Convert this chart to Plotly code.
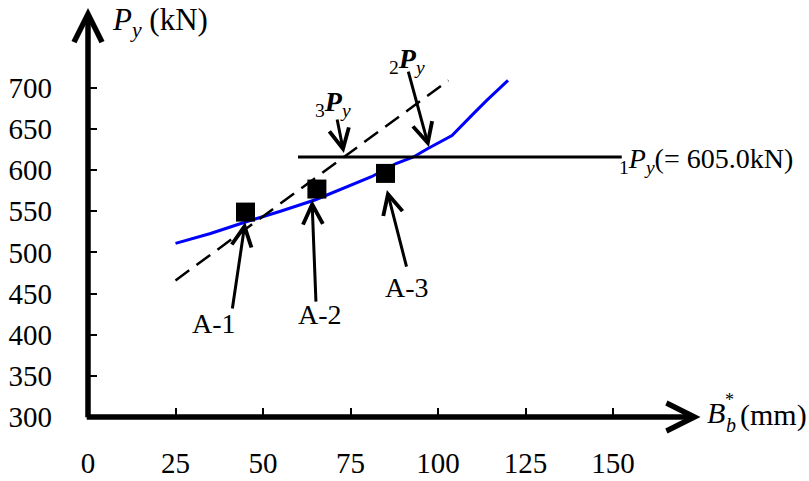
import plotly.graph_objects as go

# ---- data ----
curve_x = [25, 35, 45, 55, 65, 75, 81, 88, 93, 97, 104, 110, 114, 120]
curve_y = [511, 523, 537, 550, 564, 581, 592, 608, 616, 626, 642, 668, 685, 709]

dash_x = [25, 103]
dash_y = [466, 709]

py1_x = [60, 152.5]
py1_y = [615.8, 615.8]

spec_names = ["A-1", "A-2", "A-3"]
spec_x = [45, 65.4, 85]
spec_y = [549, 577, 596]

x_ticks = [0, 25, 50, 75, 100, 125, 150]
y_ticks = [300, 350, 400, 450, 500, 550, 600, 650, 700]

FONT = "Liberation Serif"
FS = 28

fig = go.Figure()
fig.add_trace(go.Scatter(x=curve_x, y=curve_y, mode="lines",
                         line=dict(color="#0000FF", width=3), showlegend=False))
fig.add_trace(go.Scatter(x=dash_x, y=dash_y, mode="lines",
                         line=dict(color="black", width=2.5, dash="17px,9px"), showlegend=False))
fig.add_trace(go.Scatter(x=py1_x, y=py1_y, mode="lines",
                         line=dict(color="black", width=3), showlegend=False))
fig.add_trace(go.Scatter(x=spec_x, y=spec_y, mode="markers",
                         marker=dict(symbol="square", size=19, color="black"), showlegend=False))

ann = []
# axis arrows
ann.append(dict(x=175, y=300, ax=-0.8, ay=300, axref="x", ayref="y", xref="x", yref="y",
                text="", showarrow=True, arrowhead=5, arrowwidth=5.5, arrowsize=1.0, arrowcolor="black"))
ann.append(dict(x=0, y=797, ax=0, ay=298, axref="x", ayref="y", xref="x", yref="y",
                text="", showarrow=True, arrowhead=5, arrowwidth=5.5, arrowsize=1.0, arrowcolor="black"))

small = dict(xref="x", yref="y", text="", showarrow=True, arrowhead=5, arrowwidth=3,
             arrowsize=1.3, arrowcolor="black")
# specimen arrows
ann.append(dict(small, x=44.9, y=536.9, ax=-13, ay=88))
ann.append(dict(small, x=64, y=563.6, ax=4, ay=103))
ann.append(dict(small, x=85.4, y=575.7, ax=20, ay=78))
# 3Py, 2Py arrows
ann.append(dict(small, x=73.1, y=620.7, ax=-7, ay=-35))
ann.append(dict(small, x=97.4, y=628, ax=-21, ay=-77))

txt = dict(xref="x", yref="y", showarrow=False, font=dict(family=FONT, size=FS, color="black"))
ann.append(dict(txt, x=36, y=414.2, text=spec_names[0], xanchor="center", yanchor="middle"))
ann.append(dict(txt, x=66.3, y=425, text=spec_names[1], xanchor="center", yanchor="middle"))
ann.append(dict(txt, x=91.1, y=457.9, text=spec_names[2], xanchor="center", yanchor="middle"))
ann.append(dict(txt, x=64.3, y=681.4, text="<sub>3</sub><b><i>P</i></b><sub><i>y</i></sub>",
                xanchor="left", yanchor="middle"))
ann.append(dict(txt, x=85.4, y=733.6, text="<sub>2</sub><b><i>P</i></b><sub><i>y</i></sub>",
                xanchor="left", yanchor="middle"))
ann.append(dict(txt, x=151.1, y=612.2, text="<sub>1</sub><i>P</i><sub><i>y</i></sub>(= 605.0kN)",
                xanchor="left", yanchor="middle"))
ann.append(dict(txt, x=6.3, y=779.8, text="<i>P</i><sub><i>y</i></sub> (kN)",
                font=dict(family=FONT, size=31, color="black"),
                xanchor="left", yanchor="middle"))

# x-axis title  B*_b (mm), split into pieces (paper coords, outside the plot area)
pap = dict(xref="paper", yref="paper", showarrow=False, xanchor="left", yanchor="middle")
ann.append(dict(pap, x=1.0016, y=0.0098, text="<i>B</i>",
                font=dict(family=FONT, size=30, color="black")))
ann.append(dict(pap, x=1.0325, y=-0.0196, text="<i>b</i>",
                font=dict(family=FONT, size=20, color="black")))
ann.append(dict(pap, x=1.0406, y=0.0416, text="*", xanchor="center",
                font=dict(family=FONT, size=18, color="black")))
ann.append(dict(pap, x=1.0552, y=0.0049, text="(mm)",
                font=dict(family=FONT, size=30, color="black")))

fig.update_layout(
    width=809, height=481, autosize=False,
    margin=dict(l=88, r=105, t=8, b=64, pad=0),
    paper_bgcolor="white", plot_bgcolor="white",
    font=dict(family=FONT, size=FS, color="black"),
    annotations=ann,
    xaxis=dict(range=[0, 176], showgrid=False, zeroline=False, showline=False, automargin=False,
               tickvals=x_ticks, ticktext=[str(v) for v in x_ticks],
               ticks="inside", ticklen=9, tickwidth=1.5, tickcolor="black",
               ticklabelstandoff=26, tickfont=dict(family=FONT, size=29, color="black")),
    yaxis=dict(range=[300, 797], showgrid=False, zeroline=False, showline=False, automargin=False,
               tickvals=y_ticks, ticktext=[str(v) for v in y_ticks],
               ticks="inside", ticklen=9, tickwidth=1.5, tickcolor="black",
               ticklabelstandoff=35, tickfont=dict(family=FONT, size=29, color="black")),
)

fig.write_html("out.html")
